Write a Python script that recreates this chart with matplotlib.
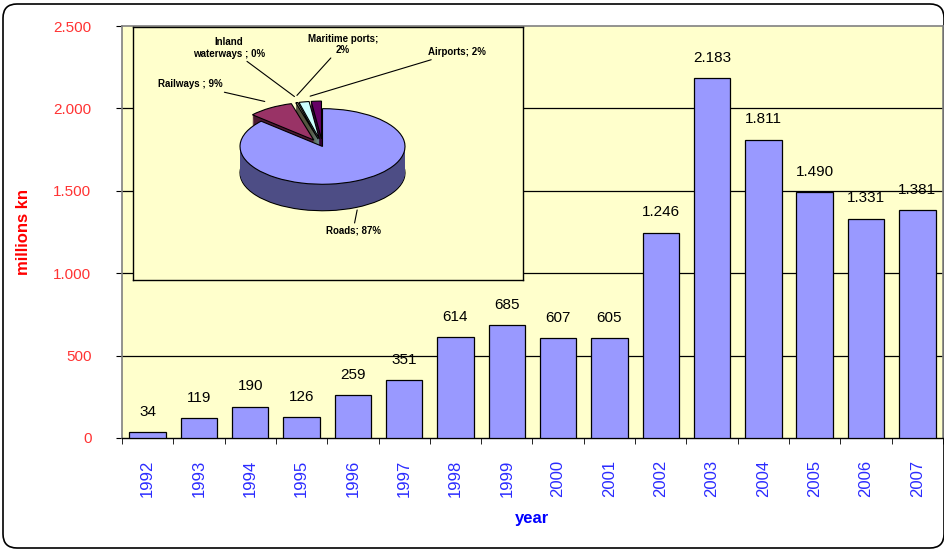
import matplotlib.pyplot as plt
import numpy as np
from matplotlib.patches import FancyBboxPatch
from matplotlib.transforms import IdentityTransform

plt.rcParams['font.family'] = ['Liberation Sans', 'DejaVu Sans']

years = ['1992', '1993', '1994', '1995', '1996', '1997', '1998', '1999',
         '2000', '2001', '2002', '2003', '2004', '2005', '2006', '2007']
invest = [34, 119, 190, 126, 259, 351, 614, 685, 607, 605, 1246, 2183, 1811, 1490, 1331, 1381]

pie_names = ['Roads', 'Railways', 'Inland waterways', 'Maritime ports', 'Airports']
pie_share = [87, 9, 0.4, 2, 2]
pie_text = ['Roads; 87%', 'Railways ; 9%', 'Inland\nwaterways ; 0%', 'Maritime ports;\n2%', 'Airports; 2%']

top_cols = ['#9999FF', '#993366', '#A3A383', '#CCFFFF', '#660066']
side_cols = ['#4D4D85', '#4D1A33', '#55553F', '#6A8A8A', '#330033']

fig = plt.figure(figsize=(9.44, 5.51), dpi=100)

# rounded frame around the whole chart
frame = FancyBboxPatch((3, 3), 941, 544, boxstyle='round,pad=0,rounding_size=14',
                       transform=IdentityTransform(), facecolor='white',
                       edgecolor='black', linewidth=1.2, zorder=-10)
fig.patches.append(frame)

ax = fig.add_axes([0.1292, 0.2051, 0.8697, 0.7477])
ax.set_facecolor('#FFFFCC')
x = np.arange(len(years))
bars = ax.bar(x, invest, width=0.71, color='#9999FF', edgecolor='black', linewidth=0.9, zorder=3)
ax.bar_label(bars, labels=[f'{v:,}'.replace(',', '.') for v in invest], padding=9.5,
             fontsize=11, color='black')

ax.set_xlim(-0.5, len(years) - 0.5)
ax.set_ylim(0, 2500)
ax.set_yticks([0, 500, 1000, 1500, 2000, 2500])
ax.set_yticklabels([f'{v:,}'.replace(',', '.') for v in [0, 500, 1000, 1500, 2000, 2500]])
for g in [500, 1000, 1500, 2000]:
    ax.axhline(g, color='black', linewidth=0.9, zorder=1)

ax.set_xticks(x)
ax.set_xticklabels(years, rotation=90, color='#2B2BFF', fontsize=12)
ax.set_xticks(np.arange(len(years) + 1) - 0.5, minor=True)
ax.tick_params(axis='x', which='major', length=0, pad=15.5)
ax.tick_params(axis='x', which='minor', length=4, direction='out', color='black')
ax.tick_params(axis='y', length=4, direction='out', color='black', labelcolor='#FF3333',
               labelsize=11, pad=18)

for s in ['left', 'top', 'right']:
    ax.spines[s].set_color('#808080')
    ax.spines[s].set_linewidth(1.2)
ax.spines['bottom'].set_color('black')
ax.spines['bottom'].set_linewidth(1.0)

ax.set_ylabel('millions kn', color='#FF0000', fontsize=12, fontweight='bold', labelpad=16)
ax.set_xlabel('year', color='#0000FF', fontsize=12, fontweight='bold', labelpad=10)

# inset 3D-looking pie
axp = fig.add_axes([0.1409, 0.4918, 0.4131, 0.4592])
axp.set_facecolor('#FFFFCC')
explode = [0, 0.2, 0.2, 0.2, 0.2]
depth = 0.7
n_layers = 30
for i, d in enumerate(np.linspace(depth, 0, n_layers)):
    if i == 0:
        axp.pie(pie_share, colors=side_cols, startangle=90, counterclock=False,
                explode=explode, center=(0, -d),
                wedgeprops=dict(edgecolor='black', linewidth=0.8))
    elif i < n_layers - 1:
        axp.pie(pie_share, colors=side_cols, startangle=90, counterclock=False,
                explode=explode, center=(0, -d),
                wedgeprops=dict(edgecolor='none', linewidth=0))
    else:
        axp.pie(pie_share, colors=top_cols, startangle=90, counterclock=False,
                explode=explode, center=(0, 0),
                wedgeprops=dict(edgecolor='black', linewidth=0.8))

axp.set_aspect('auto')
axp.set_xlim(-2.297, 2.430)
axp.set_ylim(-3.533, 3.16)
axp.set_frame_on(True)
for s in axp.spines.values():
    s.set_color('black')
    s.set_linewidth(1.0)
axp.set_xticks([])
axp.set_yticks([])

# leader lines and labels
lab_font = dict(fontsize=7, fontweight='bold', color='black')
line = dict(arrowstyle='-', color='black', linewidth=0.8, shrinkA=0, shrinkB=0)
axp.annotate(pie_text[0], xy=(0.42, -1.68), xytext=(0.37, -2.23), ha='center', va='center',
             arrowprops=line, **lab_font)
axp.annotate(pie_text[1], xy=(-0.70, 1.19), xytext=(-1.21, 1.64), ha='right', va='center',
             arrowprops=line, **lab_font)
axp.annotate(pie_text[2], xy=(-0.34, 1.32), xytext=(-0.70, 2.61), ha='right', va='center',
             multialignment='center', arrowprops=line, **lab_font)
axp.annotate(pie_text[3], xy=(-0.31, 1.35), xytext=(0.25, 2.70), ha='center', va='center',
             multialignment='center', arrowprops=line, **lab_font)
axp.annotate(pie_text[4], xy=(-0.15, 1.33), xytext=(1.28, 2.50), ha='left', va='center',
             arrowprops=line, **lab_font)

fig.savefig('out.png', dpi=100)
